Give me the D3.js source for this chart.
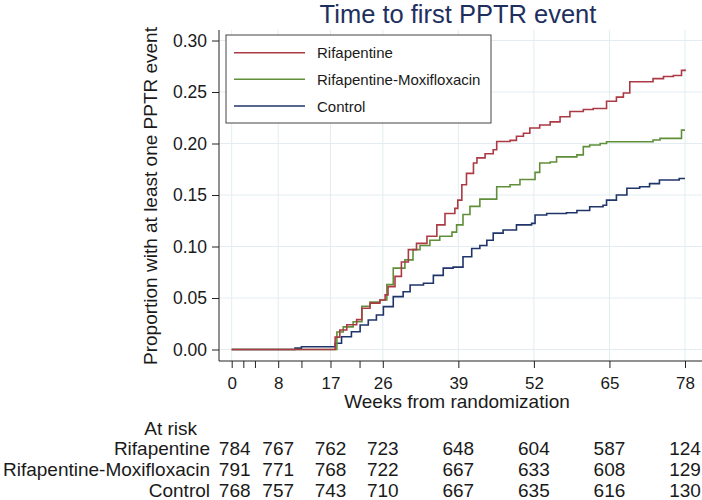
<!DOCTYPE html>
<html>
<head>
<meta charset="utf-8">
<script src="https://cdn.jsdelivr.net/npm/d3@7"></script>
<style>
  html, body { margin: 0; padding: 0; background: #fff; }
  svg { display: block; font-family: "Liberation Sans", Arial, sans-serif; }
</style>
</head>
<body>
<svg id="chart" width="702" height="500"></svg>
<script>
// ---------- data ----------
const seriesNames = ["Rifapentine", "Rifapentine-Moxifloxacin", "Control"];
const seriesColors = ["#ab3a44", "#5f8f38", "#1f3469"];

// step points: weeks and cumulative proportion with event
const rifWeeks = [0, 17.2, 17.8, 18.6, 19.8, 21.5, 22.4, 23.8, 25.5, 26.4, 26.9, 28.1, 29.2, 30.4, 31.8, 33.6, 35.3, 36.7, 38.4, 38.9, 39.6, 40.4, 41.6, 42.2, 43.6, 45.0, 45.6, 47.9, 49.0, 50.2, 51.3, 53.0, 54.8, 56.5, 58.2, 60.5, 62.2, 64.5, 66.2, 67.4, 68.5, 72.5, 74.3, 76.0, 77.4, 78];
const rifValues = [0, 0, 0.012, 0.019, 0.024, 0.029, 0.040, 0.045, 0.048, 0.053, 0.061, 0.071, 0.085, 0.097, 0.103, 0.110, 0.121, 0.132, 0.137, 0.145, 0.160, 0.171, 0.181, 0.186, 0.190, 0.194, 0.202, 0.203, 0.207, 0.210, 0.215, 0.218, 0.221, 0.226, 0.231, 0.233, 0.234, 0.241, 0.245, 0.249, 0.260, 0.263, 0.265, 0.266, 0.271, 0.272];

const moxWeeks = [0, 17.2, 18.1, 19.2, 20.9, 22.4, 23.8, 25.5, 26.7, 27.8, 29.8, 31.2, 32.4, 34.1, 35.8, 37.9, 38.7, 39.8, 41.0, 42.7, 45.6, 47.9, 49.6, 52.2, 53.0, 54.8, 55.9, 59.4, 60.5, 61.6, 63.4, 64.5, 72.5, 73.7, 77.4, 78];
const moxValues = [0, 0, 0.017, 0.022, 0.027, 0.042, 0.046, 0.048, 0.063, 0.079, 0.087, 0.097, 0.101, 0.106, 0.110, 0.114, 0.121, 0.131, 0.139, 0.146, 0.158, 0.160, 0.165, 0.172, 0.181, 0.182, 0.187, 0.189, 0.197, 0.1985, 0.200, 0.2017, 0.2034, 0.205, 0.213, 0.213];

const ctlWeeks = [0, 10.9, 12.0, 17.8, 18.9, 20.6, 22.1, 23.5, 24.9, 26.1, 27.8, 29.5, 30.7, 33.0, 34.7, 36.4, 38.1, 39.8, 41.3, 42.7, 43.9, 45.0, 46.7, 49.0, 51.6, 52.2, 54.2, 57.6, 59.4, 61.6, 63.9, 64.5, 66.2, 68.0, 70.2, 71.9, 73.6, 77.0, 78];
const ctlValues = [0, 0.0013, 0.0026, 0.006, 0.0124, 0.0173, 0.0238, 0.0286, 0.0335, 0.0416, 0.0513, 0.056, 0.0626, 0.0643, 0.072, 0.079, 0.080, 0.090, 0.098, 0.101, 0.106, 0.113, 0.116, 0.121, 0.1225, 0.1306, 0.132, 0.1328, 0.135, 0.1386, 0.140, 0.145, 0.150, 0.1565, 0.158, 0.161, 0.1646, 0.166, 0.166];

const xTicksAll = [0, 2, 4, 8, 12, 17, 22, 26, 39, 52, 65, 78];
const xTickLabels = [0, 8, 17, 26, 39, 52, 65, 78];
const yTicks = [0, 0.05, 0.10, 0.15, 0.20, 0.25, 0.30];

const riskTimes = [0, 8, 17, 26, 39, 52, 65, 78];
const riskRif = [784, 767, 762, 723, 648, 604, 587, 124];
const riskMox = [791, 771, 768, 722, 667, 633, 608, 129];
const riskCtl = [768, 757, 743, 710, 667, 635, 616, 130];

// ---------- layout ----------
const svg = d3.select("#chart");
const plotLeft = 219, plotRight = 702, plotTop = 30, plotBottom = 361;
const x = d3.scaleLinear().domain([0, 78]).range([231.7, 685]);
const y = d3.scaleLinear().domain([0, 0.30]).range([349.5, 40.5]);
const gridColor = "#e3edf1";
const textColor = "#1a1a1a";

// grid
svg.append("g").selectAll("line.hg").data(yTicks).join("line")
  .attr("x1", plotLeft).attr("x2", plotRight)
  .attr("y1", d => y(d)).attr("y2", d => y(d))
  .attr("stroke", gridColor).attr("stroke-width", 1);
svg.append("g").selectAll("line.vg").data(xTickLabels).join("line")
  .attr("x1", d => x(d)).attr("x2", d => x(d))
  .attr("y1", plotTop).attr("y2", plotBottom)
  .attr("stroke", gridColor).attr("stroke-width", 1);

// axes
const xAxis = d3.axisBottom(x).tickValues(xTicksAll).tickSize(7).tickSizeOuter(0)
  .tickFormat(d => xTickLabels.includes(d) ? d : "");
const gx = svg.append("g").attr("transform", `translate(0,${plotBottom})`).call(xAxis);
gx.select(".domain").remove();
gx.selectAll(".tick line").attr("stroke", "#222");
gx.selectAll(".tick text").attr("font-size", 17).attr("fill", textColor).attr("dy", "1.05em")
  .attr("font-family", "Liberation Sans, Arial, sans-serif");

const yAxis = d3.axisLeft(y).tickValues(yTicks).tickSize(7).tickSizeOuter(0)
  .tickFormat(d3.format(".2f"));
const gy = svg.append("g").attr("transform", `translate(${plotLeft},0)`).call(yAxis);
gy.select(".domain").remove();
gy.selectAll(".tick line").attr("stroke", "#222");
gy.selectAll(".tick text").attr("font-size", 17.5).attr("fill", textColor).attr("x", -12)
  .attr("font-family", "Liberation Sans, Arial, sans-serif");

svg.append("line").attr("x1", plotLeft).attr("x2", plotRight)
  .attr("y1", plotBottom).attr("y2", plotBottom).attr("stroke", "#222");
svg.append("line").attr("x1", plotLeft).attr("x2", plotLeft)
  .attr("y1", plotTop).attr("y2", plotBottom).attr("stroke", "#222");

// curves
const seriesData = [
  d3.zip(rifWeeks, rifValues),
  d3.zip(moxWeeks, moxValues),
  d3.zip(ctlWeeks, ctlValues)
];
const line = d3.line().x(d => x(d[0])).y(d => y(d[1])).curve(d3.curveStepAfter);
[2, 1, 0].forEach(i => {
  svg.append("path").datum(seriesData[i])
    .attr("d", line).attr("fill", "none")
    .attr("stroke", seriesColors[i]).attr("stroke-width", 1.6)
    .attr("stroke-linejoin", "miter");
});

// title
svg.append("text").attr("x", 458).attr("y", 23).attr("text-anchor", "middle")
  .attr("font-size", 25.5).attr("fill", "#1e2f5e").text("Time to first PPTR event");

// axis titles
svg.append("text").attr("x", 457).attr("y", 408).attr("text-anchor", "middle")
  .attr("font-size", 19).attr("fill", textColor).text("Weeks from randomization");
svg.append("text").attr("transform", "translate(157,196) rotate(-90)")
  .attr("text-anchor", "middle").attr("font-size", 19).attr("fill", textColor)
  .text("Proportion with at least one PPTR event");

// legend
const lg = svg.append("g");
lg.append("rect").attr("x", 226).attr("y", 35).attr("width", 265).attr("height", 88)
  .attr("fill", "#fff").attr("stroke", "#444").attr("stroke-width", 1);
const legendY = [52.7, 79.3, 106];
seriesNames.forEach((n, i) => {
  lg.append("line").attr("x1", 234).attr("x2", 305)
    .attr("y1", legendY[i]).attr("y2", legendY[i])
    .attr("stroke", seriesColors[i]).attr("stroke-width", 1.6);
  lg.append("text").attr("x", 317).attr("y", legendY[i] + 5.5)
    .attr("font-size", 15).attr("fill", textColor).text(n);
});

// at-risk table
const tbl = svg.append("g").attr("font-size", 19).attr("fill", textColor);
tbl.append("text").attr("x", 197).attr("y", 435).attr("text-anchor", "end").text("At risk");
const rows = [riskRif, riskMox, riskCtl];
const rowY = [455, 476, 497];
rows.forEach((r, i) => {
  tbl.append("text").attr("x", 210).attr("y", rowY[i]).attr("text-anchor", "end").text(seriesNames[i]);
  r.forEach((v, j) => {
    tbl.append("text").attr("x", x(riskTimes[j]) + (j === 0 ? 3 : 0)).attr("y", rowY[i])
      .attr("text-anchor", "middle").text(v);
  });
});
</script>
</body>
</html>
